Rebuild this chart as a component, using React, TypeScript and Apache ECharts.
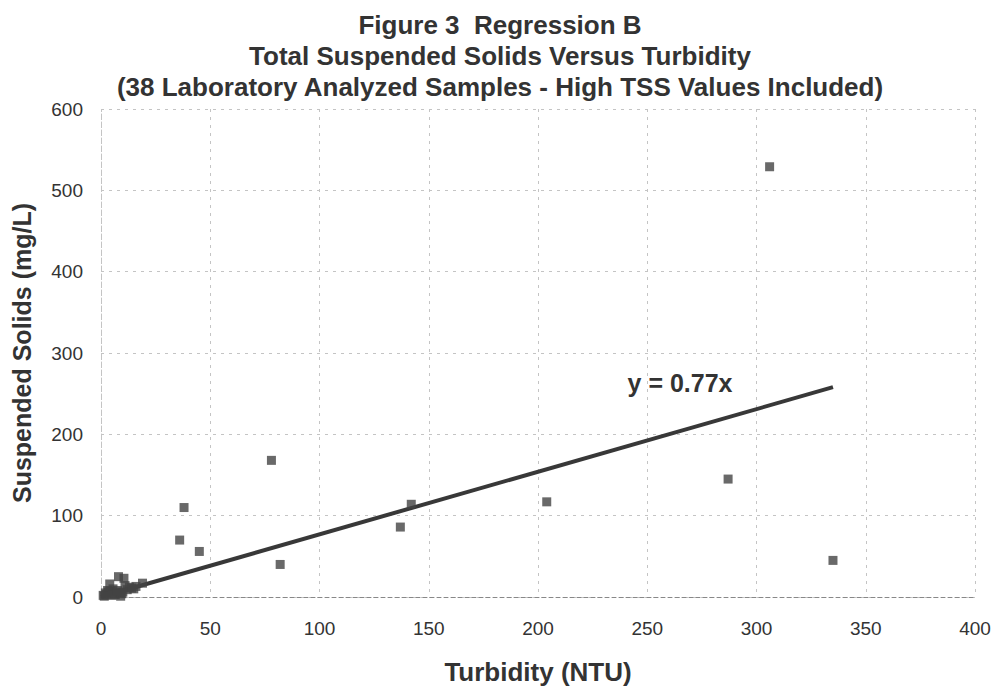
import React, { useEffect, useRef } from "react";
import * as echarts from "echarts";

const titleLines = [
  "Figure 3  Regression B",
  "Total Suspended Solids Versus Turbidity",
  "(38 Laboratory Analyzed Samples - High TSS Values Included)",
];
const xAxisName = "Turbidity (NTU)";
const yAxisName = "Suspended Solids (mg/L)";

// Turbidity (NTU)
const turbidity = [
  306, 78, 38, 36, 45, 82, 137, 142, 204, 287, 335,
  19, 10.5, 4, 8, 5.5, 2, 9, 13, 3, 6, 7, 1, 11, 12, 15, 4.5, 2.5, 8.5, 6.5, 14, 3.5, 1.5, 5, 9.5, 7.5, 16, 10,
];
// Suspended solids (mg/L)
const tss = [
  529, 168, 110, 70, 56, 40, 86, 114, 117, 145, 45,
  17, 23, 16, 25, 10, 5, 1, 12, 8, 4, 6, 2, 14, 9, 10, 7, 3, 5, 3, 11, 6, 1, 2, 4, 8, 13, 6,
];
const slope = 0.77;
const trendX = [0, 335];
const equationText = "y = 0.77x";
const equationAt = [265, 263];

const ARIAL = "'Liberation Sans', Arial, sans-serif";

export default function App() {
  const ref = useRef<HTMLDivElement>(null);
  useEffect(() => {
    if (!ref.current) return;
    const chart = echarts.init(ref.current, undefined, { renderer: "svg" });
    const points = turbidity.map((x, i) => [x, tss[i]]);
    const trend = trendX.map((x) => [x, +(slope * x).toFixed(2)]);
    const gridLine = { show: true, lineStyle: { color: "#c4c4c4", type: [3, 5] as any, width: 1 } };
    const titleTops = [7, 38, 69];
    chart.setOption({
      animation: false,
      backgroundColor: "#ffffff",
      title: titleLines.map((t, i) => ({
        text: t,
        left: 495,
        textAlign: "center",
        top: titleTops[i],
        textStyle: { fontFamily: ARIAL, fontWeight: "bold", fontSize: 26, color: "#333" },
      })),
      grid: { left: 101, right: 29, top: 109, bottom: 92, containLabel: false },
      xAxis: {
        type: "value",
        min: 0,
        max: 400,
        interval: 50,
        name: xAxisName,
        nameLocation: "middle",
        nameGap: 62,
        nameTextStyle: { fontFamily: ARIAL, fontWeight: "bold", fontSize: 26, color: "#333" },
        axisLine: { show: true, lineStyle: { color: "#888", type: [4, 3] as any } },
        axisTick: { show: false },
        splitLine: gridLine,
        axisLabel: { fontFamily: ARIAL, fontSize: 19, color: "#333", margin: 22 },
      },
      yAxis: {
        type: "value",
        min: 0,
        max: 600,
        interval: 100,
        name: yAxisName,
        nameLocation: "middle",
        nameGap: 67,
        nameTextStyle: { fontFamily: ARIAL, fontWeight: "bold", fontSize: 25, color: "#333" },
        axisLine: { show: true, lineStyle: { color: "#c4c4c4", type: [3, 5] as any } },
        axisTick: { show: false },
        splitLine: gridLine,
        axisLabel: { fontFamily: ARIAL, fontSize: 19, color: "#333", margin: 18 },
      },
      series: [
        {
          type: "line",
          data: trend,
          symbol: "none",
          lineStyle: { color: "#383838", width: 4 },
          markPoint: {
            symbol: "circle",
            symbolSize: 0,
            data: [{ coord: equationAt }],
            label: {
              show: true,
              position: "inside",
              formatter: equationText,
              fontFamily: ARIAL,
              fontWeight: "bold",
              fontSize: 25,
              color: "#333",
            },
          },
          z: 2,
        },
        {
          type: "scatter",
          data: points,
          symbol: "rect",
          symbolSize: 9,
          itemStyle: { color: "#444" },
          z: 3,
        },
      ],
    });
    return () => chart.dispose();
  }, []);
  return <div ref={ref} style={{ position: "fixed", left: 0, top: 0, width: 1004, height: 690 }} />;
}
